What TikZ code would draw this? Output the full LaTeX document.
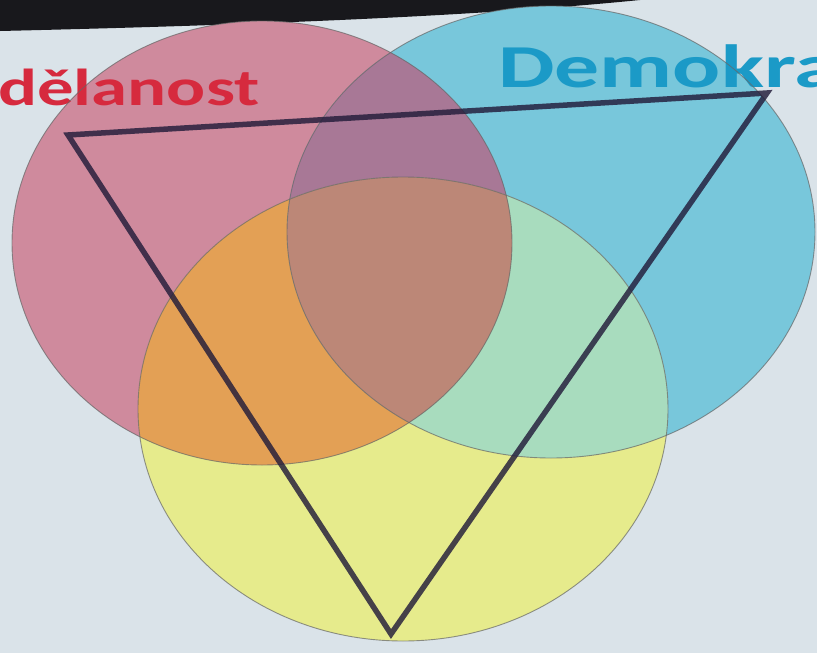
\documentclass[tikz,border=0pt]{standalone}
\usepackage{fontspec}
\setmainfont{Carlito}

\definecolor{slidebg}{HTML}{DAE3E9}
\definecolor{topdark}{HTML}{18181C}
\definecolor{vzred}{HTML}{CF8A9D}
\definecolor{demoblue}{HTML}{78C7DB}
\definecolor{thirdyellow}{HTML}{E6EB8C}
\definecolor{redblue}{HTML}{A87896}
\definecolor{redyellow}{HTML}{E3A055}
\definecolor{blueyellow}{HTML}{A8DCBE}
\definecolor{allthree}{HTML}{BC8777}
\definecolor{vztext}{HTML}{D62A3E}
\definecolor{demotext}{HTML}{1B9AC7}
\definecolor{triline}{HTML}{221C3A}

% the three sets
\def\vzset{(262,243) ellipse [x radius=250, y radius=222]}
\def\demoset{(551,232) ellipse [x radius=264, y radius=226]}
\def\thirdset{(403,409) ellipse [x radius=265, y radius=232]}

\tikzset{
  setline/.style={draw=black!60, line width=0.9pt, draw opacity=0.7},
  setlabel/.style={inner sep=0pt, anchor=base west},
  triedge/.style={draw=triline, draw opacity=0.82, line width=5.5pt, line join=miter}
}

\begin{document}
\begin{tikzpicture}[x=1pt,y=-1pt]

    \useasboundingbox (0,0) rectangle (817,653);
    \clip (0,0) rectangle (817,653);

    % Slide background and dark edge of the photo
    \fill[slidebg] (0,0) rectangle (817,653);
    \fill[topdark] (0,0) -- (640,0) .. controls (500,14) and (300,24) .. (0,31) -- cycle;

    % Sets
    \fill[vzred] \vzset;
    \fill[demoblue] \demoset;
    \fill[thirdyellow] \thirdset;

    % Overlaps
    \begin{scope}
        \clip \vzset;
        \fill[redblue] \demoset;
        \fill[redyellow] \thirdset;
    \end{scope}
    \begin{scope}
        \clip \demoset;
        \fill[blueyellow] \thirdset;
    \end{scope}
    \begin{scope}
        \clip \vzset;
        \clip \demoset;
        \fill[allthree] \thirdset;
    \end{scope}

    % Labels
    \node[setlabel, xscale=1.4, text=vztext, font=\bfseries\fontsize{52}{56}\selectfont] (vzdelanost) at (-2,105) {dělanost};
    \node[setlabel, xscale=1.47, text=demotext, font=\bfseries\fontsize{61}{64}\selectfont] (demokracie) at (498,87) {Demokra};

    % Outlines
    \draw[setline] \vzset;
    \draw[setline] \demoset;
    \draw[setline] \thirdset;

    % Triangle
    \coordinate (tl) at (68,135);
    \coordinate (tr) at (767,93);
    \coordinate (bt) at (391,634);
    \draw[triedge] (tl) -- (tr) -- (bt) -- cycle;

\end{tikzpicture}
\end{document}
